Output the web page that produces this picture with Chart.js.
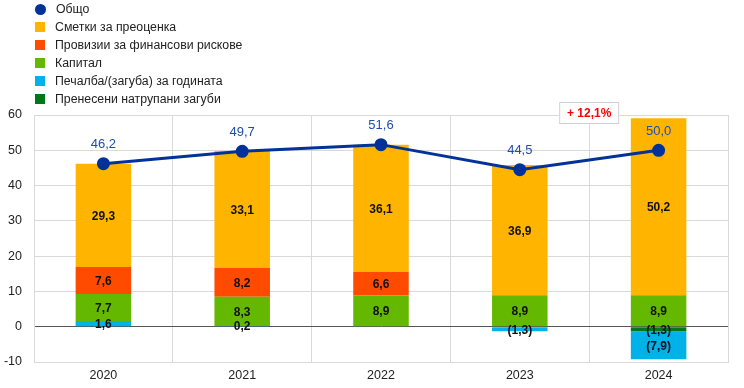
<!DOCTYPE html>
<html>
<head>
<meta charset="utf-8">
<script src="https://cdn.jsdelivr.net/npm/chart.js@4"></script>
<style>
  body { margin: 0; background: #fff; font-family: "Liberation Sans", Arial, sans-serif; }
  #wrap { position: relative; width: 744px; height: 388px; }
  #legend { position: absolute; left: 35px; top: 0px; font-size: 12.3px; color: #222; }
  #legend div { height: 18px; line-height: 18px; display: flex; align-items: center; }
  #legend span.m { display: inline-block; width: 10px; height: 10px; margin-right: 10px; }
  #legend span.dot { border-radius: 50%; width: 11px; height: 11px; }
</style>
</head>
<body>
<div id="wrap">
  <canvas id="chart" width="744" height="388"></canvas>
  <div id="legend"></div>
</div>
<script>
const years = ['2020', '2021', '2022', '2023', '2024'];
const total = [46.2, 49.7, 51.6, 44.5, 50.0];
const revaluation = [29.3, 33.1, 36.1, 36.9, 50.2];
const provisions = [7.6, 8.2, 6.6, 0, 0];
const capital = [7.7, 8.3, 8.9, 8.9, 8.9];
const profitLoss = [1.6, 0.2, 0, -1.3, -7.9];
const carriedLosses = [0, 0, 0, 0, -1.3];
const yTicks = [-10, 0, 10, 20, 30, 40, 50, 60];
const changeNote = '+ 12,1%';

function fmt(v) {
  const s = Math.abs(v).toFixed(1).replace('.', ',');
  return v < 0 ? '(' + s + ')' : s;
}

function bar(label, data, color) {
  return {
    type: 'bar', label: label, data: data, backgroundColor: color,
    stack: 's', barPercentage: 0.4, categoryPercentage: 1, order: 2
  };
}

// stacking order: first dataset sits nearest zero
const datasets = [
  bar('Пренесени натрупани загуби', carriedLosses, '#007816'),
  bar('Печалба/(загуба) за годината', profitLoss, '#00B1EA'),
  bar('Капитал', capital, '#65B800'),
  bar('Провизии за финансови рискове', provisions, '#FF4B00'),
  bar('Сметки за преоценка', revaluation, '#FFB400'),
  {
    type: 'line', label: 'Общо', data: total, borderColor: '#003299',
    backgroundColor: '#003299', borderWidth: 3, pointRadius: 5,
    pointHoverRadius: 5, tension: 0, order: 1
  }
];

const labelPlugin = {
  id: 'labels',
  afterDatasetsDraw(chart) {
    const ctx = chart.ctx;
    ctx.save();
    ctx.textAlign = 'center';
    ctx.textBaseline = 'middle';
    chart.data.datasets.forEach((ds, i) => {
      const meta = chart.getDatasetMeta(i);
      meta.data.forEach((el, j) => {
        const v = ds.data[j];
        if (!v) return;
        if (ds.type === 'line') {
          ctx.font = '13px "Liberation Sans", Arial, sans-serif';
          ctx.fillStyle = '#1E4FAA';
          ctx.fillText(fmt(v), el.x, el.y - 19);
        } else {
          ctx.font = 'bold 12px "Liberation Sans", Arial, sans-serif';
          ctx.fillStyle = '#111';
          ctx.fillText(fmt(v), el.x, (el.y + el.base) / 2 + 1);
        }
      });
    });
    // change note box
    const x = chart.scales.x;
    const cx = (x.getPixelForValue(3) + x.getPixelForValue(4)) / 2;
    const cy = chart.chartArea.top - 2;
    ctx.fillStyle = '#fff';
    ctx.fillRect(cx - 30, cy - 11, 60, 22);
    ctx.strokeStyle = '#d0d0d0';
    ctx.lineWidth = 1;
    ctx.strokeRect(cx - 29.5, cy - 10.5, 59, 21);
    ctx.font = 'bold 12px "Liberation Sans", Arial, sans-serif';
    ctx.fillStyle = '#FF0000';
    ctx.fillText(changeNote, cx, cy + 1);
    ctx.restore();
  }
};

const chart = new Chart(document.getElementById('chart'), {
  data: { labels: years, datasets: datasets },
  plugins: [labelPlugin],
  options: {
    responsive: false,
    animation: false,
    layout: { padding: { top: 115, right: 16, left: 0, bottom: 0 } },
    plugins: { legend: { display: false }, tooltip: { enabled: false } },
    scales: {
      x: {
        stacked: true,
        afterFit(scale) { scale.height = 26; },
        grid: { color: '#d9d9d9', offset: true, drawTicks: false },
        border: { color: '#d9d9d9' },
        ticks: { color: '#222', font: { size: 12.5, family: '"Liberation Sans", Arial' }, padding: 6 }
      },
      y: {
        stacked: true,
        min: yTicks[0], max: yTicks[yTicks.length - 1],
        afterBuildTicks(scale) { scale.ticks = yTicks.map(v => ({ value: v })); },
        afterFit(scale) { scale.width = 34; },
        grid: {
          color: ctx => ctx.tick && ctx.tick.value === 0 ? '#555' : '#d9d9d9',
          lineWidth: 1, drawTicks: false
        },
        border: { color: '#d9d9d9' },
        ticks: { color: '#222', font: { size: 12.5, family: '"Liberation Sans", Arial' }, padding: 12 }
      }
    }
  }
});

// HTML legend, one item per row, line series first
const legend = document.getElementById('legend');
const order = [5, 4, 3, 2, 1, 0];
order.forEach(i => {
  const ds = datasets[i];
  const row = document.createElement('div');
  const m = document.createElement('span');
  m.className = ds.type === 'line' ? 'm dot' : 'm';
  m.style.background = ds.type === 'line' ? ds.borderColor : ds.backgroundColor;
  row.appendChild(m);
  row.appendChild(document.createTextNode(ds.label));
  legend.appendChild(row);
});
</script>
</body>
</html>
